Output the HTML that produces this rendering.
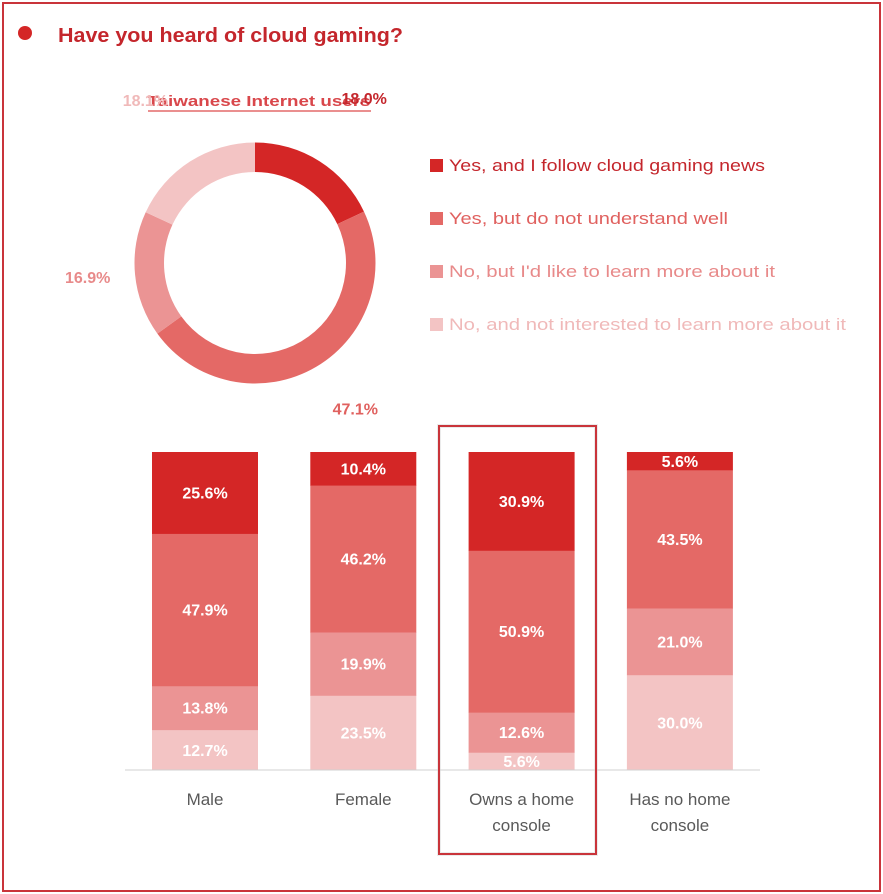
<!DOCTYPE html>
<html><head><meta charset="utf-8"><style>
html,body{margin:0;padding:0;background:#fff;}
svg{display:block;font-family:"Liberation Sans",sans-serif;}
</style></head><body>
<svg width="883" height="894" viewBox="0 0 883 894">
<rect x="3" y="3" width="877" height="888" fill="#fff" stroke="#c9343a" stroke-width="2"/>
<circle cx="25" cy="33" r="7" fill="#d42626"/>
<text x="58" y="42" font-size="20" font-weight="bold" fill="#c4262c" textLength="345" lengthAdjust="spacingAndGlyphs">Have you heard of cloud gaming?</text>
<text x="259" y="106" font-size="15" font-weight="bold" fill="#d9474b" text-anchor="middle" textLength="223" lengthAdjust="spacingAndGlyphs">Taiwanese Internet users</text>
<line x1="148" y1="111" x2="371" y2="111" stroke="#e36a6a" stroke-width="1.5"/>
<g id="donut"></g>
<g id="legend"></g>
<rect x="439" y="426" width="157" height="428" fill="none" stroke="#ddd" stroke-width="4" opacity="0.6"/>
<g id="bars"></g>
<line x1="125" y1="770" x2="760" y2="770" stroke="#d0d0d0" stroke-width="1"/>
<rect x="439" y="426" width="157" height="428" fill="none" stroke="#c9343a" stroke-width="2"/>
</svg>
<script>
const seriesNames = ["Yes, and I follow cloud gaming news","Yes, but do not understand well","No, but I'd like to learn more about it","No, and not interested to learn more about it"];
const colors = ["#d42626","#e46966","#eb9494","#f3c4c4"];
const donutValues = [18.0, 47.1, 16.9, 18.1];
const donutLabels = ["18.0%","47.1%","16.9%","18.1%"];
const categories = [["Male"],["Female"],["Owns a home","console"],["Has no home","console"]];
const s1 = [25.6, 10.4, 30.9, 5.6];
const s2 = [47.9, 46.2, 50.9, 43.5];
const s3 = [13.8, 19.9, 12.6, 21.0];
const s4 = [12.7, 23.5, 5.6, 30.0];
const NS = "http://www.w3.org/2000/svg";
function mk(tag, attrs, parent){const e=document.createElementNS(NS,tag);for(const k in attrs)e.setAttribute(k,attrs[k]);parent.appendChild(e);return e;}
// donut
const donut=document.getElementById('donut');
const cx=255, cy=263, R=120.5, r=91;
const tot=donutValues.reduce((a,b)=>a+b,0);
let acc=0;
const pt=(rad,a)=>[cx+rad*Math.sin(a), cy-rad*Math.cos(a)];
const labelColors=["#c4262c","#e0615f","#e88a8a","#f0b9b9"];
donutValues.forEach((v,i)=>{
  const a0=acc/tot*2*Math.PI; acc+=v; const a1=acc/tot*2*Math.PI;
  const lg=(a1-a0)>Math.PI?1:0;
  const [x0,y0]=pt(R,a0),[x1,y1]=pt(R,a1),[x2,y2]=pt(r,a1),[x3,y3]=pt(r,a0);
  const p=mk('path',{d:`M${x0},${y0}A${R},${R} 0 ${lg} 1 ${x1},${y1}L${x2},${y2}A${r},${r} 0 ${lg} 0 ${x3},${y3}Z`,fill:colors[i]},donut);
  
  
  const am=(a0+a1)/2;
  const [lx,ly]=pt(148,am);
  let dx=0, dy=0;
  if(i===0){dx=30;dy=-40;} if(i===1){dx=25;dy=18;} if(i===2){dx=-20;dy=0;} if(i===3){dx=-30;dy=-38;}
  const t=mk('text',{x:lx+dx,y:ly+dy+6,'font-size':16,'font-weight':'bold',fill:labelColors[i],'text-anchor':'middle'},donut);
  t.textContent=donutLabels[i];
  
  
});
// legend
const legend=document.getElementById('legend');
const legW=[316,279,326,397];
seriesNames.forEach((n,i)=>{
  const y=165+i*53;
  const s=mk('rect',{x:430,y:y-6,width:13,height:13,fill:colors[i]},legend);
  
  
  const t=mk('text',{x:449,y:y+6,'font-size':17,fill:labelColors[i],textLength:legW[i],lengthAdjust:'spacingAndGlyphs'},legend);
  t.textContent=n;
  
  
});
// bars
const bars=document.getElementById('bars');
const base=770, H=318, bw=106;
const xc=i=>205+i*158.3;
const yScale=v=>v/100*H;
const series=[s1,s2,s3,s4];
categories.forEach((c,i)=>{
  const total=s1[i]+s2[i]+s3[i]+s4[i];
  let y=base;
  for(let k=3;k>=0;k--){
    const h=yScale(series[k][i]/total*100);
    y-=h;
    const b=mk('rect',{x:xc(i)-bw/2,y:y,width:bw,height:h+0.5,fill:colors[k]},bars);
    
    
    const t=mk('text',{x:xc(i),y:y+h/2+6,'font-size':16,'font-weight':'bold',fill:'#fff','text-anchor':'middle'},bars);
    t.textContent=series[k][i].toFixed(1)+'%';
    
    
  }
  c.forEach((line,j)=>{
    const t=mk('text',{x:xc(i),y:805+j*26,'font-size':17,fill:'#595959','text-anchor':'middle'},bars);
    t.textContent=line;
    
    
  });
});
</script>
</body></html>
